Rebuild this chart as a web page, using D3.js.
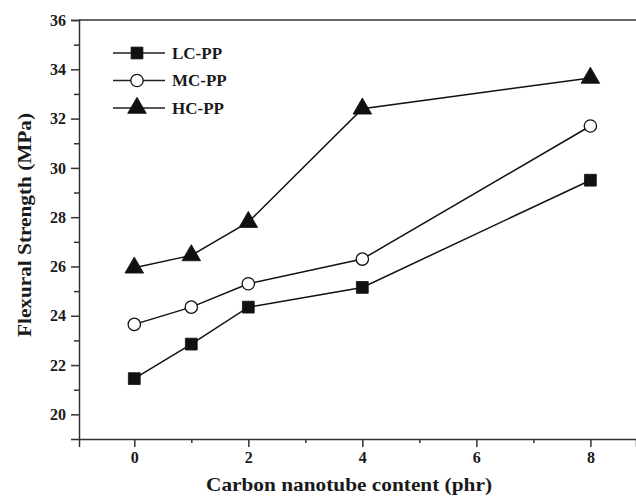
<!DOCTYPE html>
<html>
<head>
<meta charset="utf-8">
<script src="https://cdn.jsdelivr.net/npm/d3@7"></script>
<style>
  body { margin: 0; background: #fff; }
  svg text { font-family: "Liberation Serif", "Times New Roman", serif; font-weight: bold; fill: #1a1a1a; }
</style>
</head>
<body>
<div class="chart"></div>
<script>
// data
const contents = [0, 1, 2, 4, 8];
const lcValues = [21.45, 22.85, 24.35, 25.15, 29.5];
const mcValues = [23.65, 24.35, 25.3, 26.3, 31.7];
const hcValues = [25.95, 26.45, 27.8, 32.4, 33.65];
const seriesNames = ['LC-PP', 'MC-PP', 'HC-PP'];
const xTicks = [0, 2, 4, 6, 8];
const yTicks = [20, 22, 24, 26, 28, 30, 32, 34, 36];

const width = 636, height = 498;
const plotLeft = 79, plotTop = 20, plotBottom = 439;

const svg = d3.select('.chart').append('svg')
  .attr('width', width)
  .attr('height', height);

const x = d3.scaleLinear([-0.97, 8.8], [plotLeft, width]);
const y = d3.scaleLinear([19, 36], [plotBottom, plotTop]);

// frame
svg.append('line')
  .attr('x1', plotLeft).attr('x2', width)
  .attr('y1', plotTop).attr('y2', plotTop)
  .attr('stroke', '#333').attr('stroke-width', 1.5);

// x axis
svg.append('g')
  .attr('transform', `translate(0,${plotBottom})`)
  .call(d3.axisBottom(x).tickValues(xTicks).tickFormat(d3.format('d')).tickSize(8).tickPadding(5));
svg.append('g')
  .attr('transform', `translate(0,${plotBottom})`)
  .call(d3.axisBottom(x).tickValues([1, 3, 5, 7]).tickFormat('').tickSize(4))
  .call(g => g.select('.domain').remove());

// y axis
svg.append('g')
  .attr('transform', `translate(${plotLeft},0)`)
  .call(d3.axisLeft(y).tickValues(yTicks).tickSize(8).tickPadding(5));
svg.append('g')
  .attr('transform', `translate(${plotLeft},0)`)
  .call(d3.axisLeft(y).tickValues([21, 23, 25, 27, 29, 31, 33, 35]).tickFormat('').tickSize(5))
  .call(g => g.select('.domain').remove());

svg.selectAll('.domain').attr('stroke', '#333').attr('stroke-width', 1.5);
svg.selectAll('.tick line').attr('stroke', '#333').attr('stroke-width', 1.5);
svg.selectAll('.tick text').style('font-size', '16px');

// axis titles
svg.append('text')
  .attr('x', 349)
  .attr('y', 491)
  .attr('text-anchor', 'middle')
  .attr('textLength', 286)
  .attr('lengthAdjust', 'spacingAndGlyphs')
  .style('font-size', '19px')
  .text('Carbon nanotube content (phr)');

svg.append('text')
  .attr('transform', 'translate(31,225) rotate(-90)')
  .attr('text-anchor', 'middle')
  .attr('textLength', 224)
  .attr('lengthAdjust', 'spacingAndGlyphs')
  .style('font-size', '18px')
  .text('Flexural Strength (MPa)');

// series
const allSeries = [lcValues, mcValues, hcValues];
const symbols = [d3.symbolSquare, d3.symbolCircle, d3.symbolTriangle];
const symbolSizes = [140, 120, 150];
const fills = ['#111', '#fff', '#111'];

const line = d3.line()
  .x((d, i) => x(contents[i]))
  .y(d => y(d));

allSeries.forEach((vals, s) => {
  svg.append('path')
    .datum(vals)
    .attr('d', line)
    .attr('fill', 'none')
    .attr('stroke', '#111')
    .attr('stroke-width', 1.5);

  svg.append('g')
    .selectAll('path')
    .data(vals)
    .enter()
    .append('path')
    .attr('transform', (d, i) => `translate(${x(contents[i])},${y(d)})`)
    .attr('d', d3.symbol(symbols[s], symbolSizes[s]))
    .attr('fill', fills[s])
    .attr('stroke', '#111')
    .attr('stroke-width', s === 1 ? 1.3 : 0.8);
});

// legend
const legend = svg.append('g').attr('transform', 'translate(113,53)');
seriesNames.forEach((name, s) => {
  const row = legend.append('g').attr('transform', `translate(0,${s * 27.5})`);
  row.append('line')
    .attr('x1', 0).attr('x2', 52)
    .attr('stroke', '#222').attr('stroke-width', 1.6);
  row.append('path')
    .attr('transform', 'translate(24,0)')
    .attr('d', d3.symbol(symbols[s], symbolSizes[s]))
    .attr('fill', fills[s])
    .attr('stroke', '#111')
    .attr('stroke-width', s === 1 ? 1.3 : 0.8);
  row.append('text')
    .attr('x', 59)
    .attr('dy', '0.35em')
    .style('font-size', '17px')
    .text(name);
});
</script>
</body>
</html>
